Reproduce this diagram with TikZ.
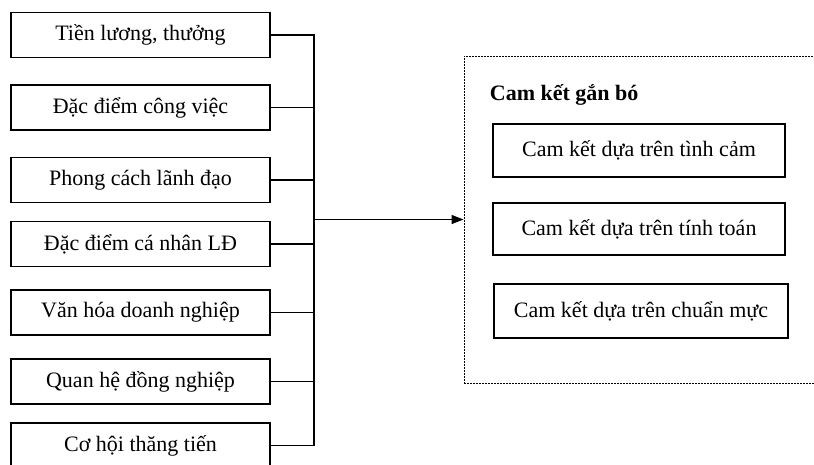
\documentclass[tikz,border=0pt]{standalone}
\usepackage{fontspec}
\setmainfont{Liberation Serif}
\usetikzlibrary{arrows.meta}

\begin{document}
\begin{tikzpicture}[x=1pt, y=-1pt, line width=1.1pt,
  factor/.style={draw, minimum width=259pt, minimum height=45pt, inner sep=0pt, font=\fontsize{22}{26}\selectfont},
  kind/.style={draw, minimum width=292pt, minimum height=53pt, inner sep=0pt, font=\fontsize{22}{26}\selectfont}]
\useasboundingbox (0,0) rectangle (814,464);
\node [factor] (luong) at (140.5,35) {Tiền lương, thưởng};
\node [factor] (congviec) at (140.5,107.5) {Đặc điểm công việc};
\node [factor] (lanhdao) at (140.5,180) {Phong cách lãnh đạo};
\node [factor] (canhan) at (140.5,244) {Đặc điểm cá nhân LĐ};
\node [factor] (vanhoa) at (140.5,312.5) {Văn hóa doanh nghiệp};
\node [factor] (dongnghiep) at (140.5,381.5) {Quan hệ đồng nghiệp};
\node [factor] (thangtien) at (140.5,445.5) {Cơ hội thăng tiến};
\coordinate (bus) at (314,35);
\node [draw, dash pattern=on 2pt off 1pt, line width=.9pt, minimum width=356pt, minimum height=327pt, inner sep=0pt] (camket) at (642,219.5) {};
\node [anchor=west, font=\fontsize{22}{26}\selectfont\bfseries] (tieude) at (486,95) {Cam kết gắn bó};
\node [kind] (tinhcam) at (639,150.5) {Cam kết dựa trên tình cảm};
\node [kind, minimum height=52pt] (tinhtoan) at (639,229) {Cam kết dựa trên tính toán};
\node [kind, minimum width=294pt, minimum height=54pt] (chuanmuc) at (641,311) {Cam kết dựa trên chuẩn mực};
\draw (luong.east) -- (bus) -- (bus |- thangtien.east) -- (thangtien.east);
\draw (congviec.east) -- (congviec.east -| bus);
\draw (lanhdao.east) -- (lanhdao.east -| bus);
\draw (canhan.east) -- (canhan.east -| bus);
\draw (vanhoa.east) -- (vanhoa.east -| bus);
\draw (dongnghiep.east) -- (dongnghiep.east -| bus);
\draw [-{Triangle[length=12pt, width=9pt]}, line width=1.3pt] (bus |- camket.west) -- (camket.west);
\end{tikzpicture}
\end{document}
